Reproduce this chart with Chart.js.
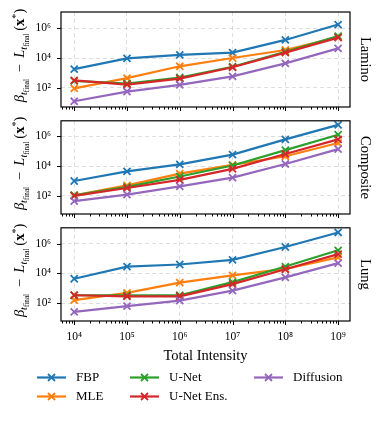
<!DOCTYPE html>
<html>
<head>
<meta charset="utf-8">
<script src="https://cdn.jsdelivr.net/npm/chart.js@4.4.0/dist/chart.umd.min.js"></script>
<style>
  html, body { margin: 0; padding: 0; background: #fff; }
  #wrap { position: relative; width: 382px; height: 421px; overflow: hidden; background: #fff; }
  canvas { position: absolute; left: 0; }
</style>
</head>
<body>
<div id="wrap">
  <canvas id="lamino" width="382" height="114" style="top:0px"></canvas>
  <canvas id="composite" width="382" height="107" style="top:114px"></canvas>
  <canvas id="lung" width="382" height="200" style="top:221px"></canvas>
</div>
<script>
// x values and series names
const intensity = [1e4, 1e5, 1e6, 1e7, 1e8, 1e9];
const methods = ["FBP", "MLE", "U-Net", "U-Net Ens.", "Diffusion"];
const colors = ["#1f77b4", "#ff7f0e", "#2ca02c", "#d62728", "#9467bd"];
const xTicks = [1e4, 1e5, 1e6, 1e7, 1e8, 1e9];
const yTicks = [1e2, 1e4, 1e6];

// Lamino
const laminoFBP = [1.8e3, 9.5e3, 1.6e4, 2.3e4, 1.6e5, 1.7e6];
const laminoMLE = [95, 4.6e2, 2.8e3, 1.0e4, 3.4e4, 2.5e5];
const laminoUNet = [3.0e2, 2.0e2, 5.0e2, 2.6e3, 2.6e4, 2.9e5];
const laminoEns = [3.2e2, 1.7e2, 4.2e2, 2.4e3, 2.3e4, 2.3e5];
const laminoDiff = [13, 58, 1.6e2, 6.0e2, 4.4e3, 4.4e4];

// Composite
const compositeFBP = [1.0e3, 4.4e3, 1.3e4, 6.0e4, 6.3e5, 6.0e6];
const compositeMLE = [1.1e2, 5.1e2, 3.1e3, 1.2e4, 4.6e4, 3.6e5];
const compositeUNet = [1.1e2, 4.0e2, 2.0e3, 1.1e4, 1.2e5, 1.3e6];
const compositeEns = [1.0e2, 3.4e2, 1.2e3, 6.6e3, 6.6e4, 6.3e5];
const compositeDiff = [44, 1.2e2, 4.4e2, 1.7e3, 1.4e4, 1.4e5];

// Lung
const lungFBP = [4.4e3, 2.9e4, 4.0e4, 8.2e4, 6.0e5, 5.7e6];
const lungMLE = [1.6e2, 4.9e2, 2.4e3, 7.4e3, 2.0e4, 1.2e5];
const lungUNet = [3.4e2, 3.4e2, 3.4e2, 2.6e3, 2.9e4, 3.6e5];
const lungEns = [3.4e2, 2.9e2, 2.9e2, 1.9e3, 1.9e4, 2.0e5];
const lungDiff = [26, 63, 1.5e2, 7.0e2, 5.4e3, 4.9e4];

const serif = "'Liberation Serif', 'DejaVu Serif', serif";
const sup = "⁰¹²³⁴⁵⁶⁷⁸⁹";

function powLabel(v) {
  const e = Math.round(Math.log10(v));
  return "10" + String(e).split("").map((d) => sup[+d]).join("");
}

// y label with sub/superscripts, drawn rotated
function drawYLabel(ctx, cx, cy) {
  const b = 14.5, m = 10.2, s = 7.2;
  const runs = [
    { t: "β", f: `italic ${b}px ${serif}`, dy: 0 },
    { t: "t", f: `italic ${m}px ${serif}`, dy: 3 },
    { t: "final", f: `${s}px ${serif}`, dy: 5 },
    { t: " \u2009−\u2009 ", f: `${b}px ${serif}`, dy: 0 },
    { t: "L", f: `italic ${b}px ${serif}`, dy: 0 },
    { t: "t", f: `italic ${m}px ${serif}`, dy: 3 },
    { t: "final", f: `${s}px ${serif}`, dy: 5 },
    { t: "\u2009(", f: `${b}px ${serif}`, dy: 0 },
    { t: "x", f: `bold ${b}px ${serif}`, dy: 0 },
    { t: "*", f: `${m}px ${serif}`, dy: -5 },
    { t: ")", f: `${b}px ${serif}`, dy: 0 },
  ];
  ctx.save();
  let total = 0;
  runs.forEach((r) => { ctx.font = r.f; r.w = ctx.measureText(r.t).width; total += r.w; });
  ctx.translate(cx, cy);
  ctx.rotate(-Math.PI / 2);
  ctx.fillStyle = "#000";
  ctx.textBaseline = "alphabetic";
  ctx.textAlign = "left";
  let x = -total / 2;
  runs.forEach((r) => { ctx.font = r.f; ctx.fillText(r.t, x, r.dy); x += r.w; });
  ctx.restore();
}

function drawCross(ctx, x, y, r) {
  ctx.beginPath();
  ctx.moveTo(x - r, y - r); ctx.lineTo(x + r, y + r);
  ctx.moveTo(x - r, y + r); ctx.lineTo(x + r, y - r);
  ctx.stroke();
}

// no extra room for the end tick labels, so the plot box lands where we put it
function noPad(s) {
  s.paddingTop = 0;
  s.paddingBottom = 0;
  s.paddingLeft = 0;
  s.paddingRight = 0;
}

const framePlugin = {
  id: "frame",
  afterDraw(chart, args, opts) {
    const ctx = chart.ctx;
    const a = chart.chartArea;
    const xs = chart.scales.x;
    const ys = chart.scales.y;
    ctx.save();
    ctx.strokeStyle = "#000";
    ctx.lineWidth = 1;
    ctx.beginPath();
    for (let e = 3; e <= 9; e++) {
      for (let k = 1; k <= 9; k++) {
        const v = k * Math.pow(10, e);
        if (v < xs.min || v > xs.max) continue;
        const px = Math.round(xs.getPixelForValue(v)) + 0.5;
        const len = k === 1 ? 4 : 2.5;
        ctx.moveTo(px, a.bottom);
        ctx.lineTo(px, a.bottom + len);
      }
    }
    yTicks.forEach((v) => {
      const py = Math.round(ys.getPixelForValue(v)) + 0.5;
      ctx.moveTo(a.left, py);
      ctx.lineTo(a.left - 4, py);
    });
    ctx.stroke();
    ctx.lineWidth = 1.2;
    ctx.strokeRect(a.left, a.top, a.right - a.left, a.bottom - a.top);

    // y label and panel name
    drawYLabel(ctx, 24, (a.top + a.bottom) / 2 - 4);
    ctx.save();
    ctx.translate(364.5, (a.top + a.bottom) / 2);
    ctx.rotate(Math.PI / 2);
    ctx.font = `14.5px ${serif}`;
    ctx.fillStyle = "#000";
    ctx.textAlign = "center";
    ctx.textBaseline = "middle";
    ctx.fillText(opts.name, 0, 0);
    ctx.restore();

    if (opts.bottom) {
      // x axis title
      ctx.font = `14.5px ${serif}`;
      ctx.fillStyle = "#000";
      ctx.textAlign = "center";
      ctx.textBaseline = "middle";
      ctx.fillText("Total Intensity", (a.left + a.right) / 2, a.bottom + 35);

      // legend, filled column by column
      const colX = [37, 130, 254];
      const rowY = [a.bottom + 56.5, a.bottom + 75.5];
      ctx.font = `13px ${serif}`;
      ctx.textAlign = "left";
      chart.data.datasets.forEach((ds, i) => {
        const x0 = colX[Math.floor(i / 2)];
        const y0 = rowY[i % 2];
        ctx.strokeStyle = ds.borderColor;
        ctx.lineWidth = 2.2;
        ctx.beginPath();
        ctx.moveTo(x0, y0);
        ctx.lineTo(x0 + 29, y0);
        ctx.stroke();
        ctx.lineWidth = 1.8;
        drawCross(ctx, x0 + 14.5, y0, 3.5);
        ctx.fillStyle = "#000";
        ctx.fillText(ds.label, x0 + 39, y0 + 0.5);
      });
    }
    ctx.restore();
  },
};

function makePanel(id, name, series, padTop, xHeight, yMinExp, yMaxExp, bottom) {
  const datasets = series.map((vals, i) => ({
    label: methods[i],
    data: vals.map((v, j) => ({ x: intensity[j], y: v })),
    borderColor: colors[i],
    backgroundColor: colors[i],
    borderWidth: 2.2,
    pointStyle: "crossRot",
    pointRadius: 5,
    pointBorderWidth: 1.8,
    order: series.length - i,
    tension: 0,
  }));
  return new Chart(document.getElementById(id), {
    type: "line",
    data: { datasets },
    plugins: [framePlugin],
    options: {
      responsive: false,
      animation: false,
      devicePixelRatio: 1,
      layout: { padding: { left: 0, right: 32, top: padTop, bottom: 0 } },
      plugins: {
        legend: { display: false },
        tooltip: { enabled: false },
        frame: { name, bottom },
      },
      scales: {
        x: {
          type: "logarithmic",
          min: Math.pow(10, 3.75),
          max: Math.pow(10, 9.225),
          afterBuildTicks: (s) => { s.ticks = xTicks.map((v) => ({ value: v })); },
          afterFit: (s) => { s.height = xHeight; noPad(s); },
          grid: { color: "rgba(0,0,0,0.13)", drawTicks: false, lineWidth: 1 },
          border: { display: false, dash: [4, 3] },
          ticks: {
            display: bottom,
            autoSkip: false,
            maxRotation: 0,
            padding: 9,
            color: "#000",
            font: { family: serif, size: 11.5 },
            callback: (v) => powLabel(v),
          },
        },
        y: {
          type: "logarithmic",
          min: Math.pow(10, yMinExp),
          max: Math.pow(10, yMaxExp),
          afterBuildTicks: (s) => { s.ticks = yTicks.map((v) => ({ value: v })); },
          afterFit: (s) => { s.width = 61; noPad(s); },
          grid: { color: "rgba(0,0,0,0.13)", drawTicks: false, lineWidth: 1 },
          border: { display: false, dash: [4, 3] },
          ticks: {
            padding: 10,
            color: "#000",
            font: { family: serif, size: 11.5 },
            callback: (v) => powLabel(v),
          },
        },
      },
    },
  });
}

makePanel("lamino", "Lamino",
  [laminoFBP, laminoMLE, laminoUNet, laminoEns, laminoDiff], 12, 7, 0.733, 7.067, false);
makePanel("composite", "Composite",
  [compositeFBP, compositeMLE, compositeUNet, compositeEns, compositeDiff], 6, 7, 0.78, 7.05, false);
makePanel("lung", "Lung",
  [lungFBP, lungMLE, lungUNet, lungEns, lungDiff], 6, 100, 0.8, 7.07, true);
</script>
</body>
</html>
